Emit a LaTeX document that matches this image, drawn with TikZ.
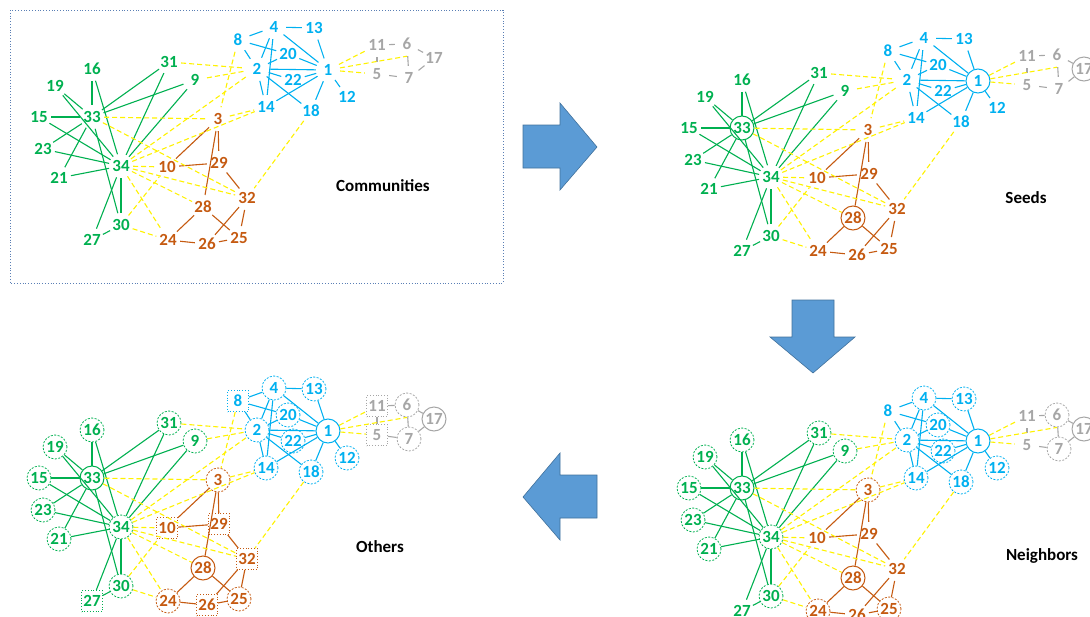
\documentclass[tikz,border=0pt]{standalone}
\usepackage{fontspec}
\setmainfont{Carlito}
\definecolor{cg}{HTML}{00B050}
\definecolor{cb}{HTML}{00B0F0}
\definecolor{co}{HTML}{C55A11}
\definecolor{cy}{HTML}{A6A6A6}
\definecolor{cd}{HTML}{FFF200}
\definecolor{arrf}{HTML}{5B9BD5}
\definecolor{arrb}{HTML}{41719C}
\definecolor{framec}{HTML}{5A7FB5}
\tikzset{
  lbl/.style={circle, minimum size=24pt, inner sep=0pt, font=\fontsize{17}{17}\selectfont\bfseries},
  seed/.style={draw, solid, line width=1pt},
  nbr/.style={draw, dash pattern=on 2pt off 1.5pt, line width=0.8pt},
  oth/.style={draw, rectangle, dotted, minimum size=21pt, line width=0.8pt},
  ge/.style={cg, line width=1.1pt},
  be/.style={cb, line width=1.1pt},
  oe/.style={co, line width=1.1pt},
  ye/.style={cy, line width=1.1pt},
  xe/.style={cd, line width=1.1pt, dash pattern=on 5pt off 3pt},
  ttl/.style={font=\fontsize{17}{17}\selectfont\bfseries, text=black},
  bigarrow/.style={fill=arrf, draw=arrb, line width=0.6pt},
}
\newcommand\N[4]{\node[lbl, color=#4, n#1/.try] (v#1) at (#2,#3) {#1};}
\newcommand\drawgraph{%
  \N{1}{328}{70}{cb}
  \N{2}{257}{69}{cb}
  \N{3}{218}{119}{co}
  \N{4}{274}{27}{cb}
  \N{5}{377}{74}{cy}
  \N{6}{407}{44}{cy}
  \N{7}{409}{78}{cy}
  \N{8}{238}{40}{cb}
  \N{9}{195}{80}{cg}
  \N{10}{167}{167}{co}
  \N{11}{377}{45}{cy}
  \N{12}{347}{97}{cb}
  \N{13}{314}{28}{cb}
  \N{14}{266}{107}{cb}
  \N{15}{39}{117}{cg}
  \N{16}{92}{69}{cg}
  \N{17}{434}{58}{cy}
  \N{18}{311}{111}{cb}
  \N{19}{55}{86}{cg}
  \N{20}{288}{54}{cb}
  \N{21}{59}{178}{cg}
  \N{22}{293}{80}{cb}
  \N{23}{43}{149}{cg}
  \N{24}{168}{240}{co}
  \N{25}{239}{238}{co}
  \N{26}{207}{244}{co}
  \N{27}{92}{240}{cg}
  \N{28}{203}{207}{co}
  \N{29}{219}{163}{co}
  \N{30}{121}{225}{cg}
  \N{31}{169}{62}{cg}
  \N{32}{247}{198}{co}
  \N{33}{92}{117}{cg}
  \N{34}{121}{166}{cg}
  \foreach \a/\b in {33/16,33/19,33/15,33/23,33/21,33/31,33/9,33/30,34/16,34/19,34/15,34/23,34/21,34/31,34/9,34/30,34/27,30/27}
    \draw[ge] (v\a) -- (v\b);
  \foreach \a/\b in {3/10,3/28,3/29,10/29,29/32,28/24,28/25,24/26,26/25,26/32,32/25}
    \draw[oe] (v\a) -- (v\b);
  \foreach \a/\b in {8/4,8/2,8/20,20/1,4/13,4/1,4/2,4/14,13/1,2/20,2/1,2/22,2/14,2/18,22/1,1/12,1/14,1/18}
    \draw[be] (v\a) -- (v\b);
  \foreach \a/\b in {11/6,11/5,5/7,6/17,7/17,6/7}
    \draw[ye] (v\a) -- (v\b);
  \foreach \a/\b in {31/2,9/2,34/2,8/3,3/14,34/14,33/3,33/32,34/10,34/32,34/28,34/24,30/24,30/10,18/32,1/11,1/5}
    \draw[xe] (v\a) -- (v\b);
  \draw[xe] (v1) -- (v6.south);
}
\begin{document}
\begin{tikzpicture}[x=1pt,y=-1pt]
\useasboundingbox (0,0) rectangle (1090,616);
\clip (0,0) rectangle (1090,616);
% panel frame
\draw[framec, dotted, line width=0.8pt] (10,10) rectangle (503,283);
% panel A: communities
\begin{scope}[name prefix=a-]
  \drawgraph
  \node[ttl] (lc) at (383,186) {Communities};
\end{scope}
% panel B: seeds
\begin{scope}[shift={(650,11)}, name prefix=b-,
  n33/.style=seed, n28/.style=seed, n1/.style=seed, n17/.style=seed]
  \drawgraph
\end{scope}
\node[ttl] (ls) at (1026,198) {Seeds};
% panel C: neighbors
\begin{scope}[shift={(650,371)}, name prefix=c-,
  n33/.style=seed, n28/.style=seed, n1/.style=seed, n17/.style=seed,
  n16/.style=nbr, n19/.style=nbr, n15/.style=nbr, n23/.style=nbr, n21/.style=nbr,
  n31/.style=nbr, n9/.style=nbr, n30/.style=nbr, n34/.style=nbr,
  n3/.style=nbr, n24/.style=nbr, n25/.style=nbr,
  n4/.style=nbr, n13/.style=nbr, n20/.style=nbr, n22/.style=nbr, n2/.style=nbr,
  n14/.style=nbr, n18/.style=nbr, n12/.style=nbr, n6/.style=nbr, n7/.style=nbr]
  \drawgraph
\end{scope}
\node[ttl] (ln) at (1042,556) {Neighbors};
% panel D: others
\begin{scope}[shift={(0,361)}, name prefix=d-,
  n33/.style=seed, n28/.style=seed, n1/.style=seed, n17/.style=seed,
  n16/.style=nbr, n19/.style=nbr, n15/.style=nbr, n23/.style=nbr, n21/.style=nbr,
  n31/.style=nbr, n9/.style=nbr, n30/.style=nbr, n34/.style=nbr,
  n3/.style=nbr, n24/.style=nbr, n25/.style=nbr,
  n4/.style=nbr, n13/.style=nbr, n20/.style=nbr, n22/.style=nbr, n2/.style=nbr,
  n14/.style=nbr, n18/.style=nbr, n12/.style=nbr, n6/.style=nbr, n7/.style=nbr,
  n8/.style=oth, n27/.style=oth, n10/.style=oth, n29/.style=oth, n32/.style=oth,
  n26/.style=oth, n11/.style=oth, n5/.style=oth]
  \drawgraph
\end{scope}
\node[ttl] (lo) at (380,547) {Others};
% arrows
\draw[bigarrow] (523,125) -- (560,125) -- (560,103) -- (597,147) -- (560,190) -- (560,168) -- (523,168) -- cycle;
\draw[bigarrow] (792,300) -- (834,300) -- (834,337) -- (855,337) -- (813,373) -- (770,337) -- (792,337) -- cycle;
\draw[bigarrow] (597,475) -- (560,475) -- (560,453) -- (523,497) -- (560,540) -- (560,518) -- (597,518) -- cycle;
\end{tikzpicture}
\end{document}
